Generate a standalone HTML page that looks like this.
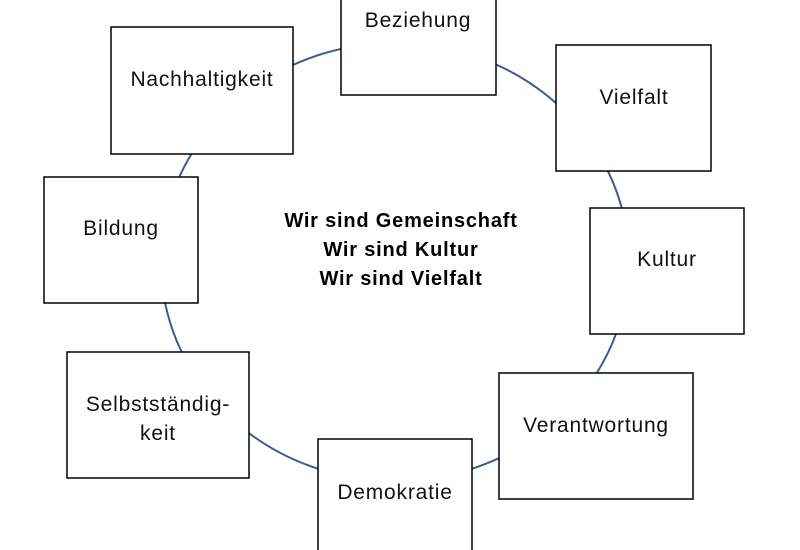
<!DOCTYPE html>
<html><head><meta charset="utf-8"><style>
html,body{margin:0;padding:0;background:#fff;}
svg{display:block;}
text{font-family:"Liberation Sans",sans-serif;}
</style></head><body>
<svg width="800" height="550" viewBox="0 0 800 550" xmlns="http://www.w3.org/2000/svg">
<ellipse cx="395" cy="262" rx="234" ry="219" fill="none" stroke="#3a5a98" stroke-width="2"/>
<g fill="#fff" stroke="#000" stroke-width="1.5">
<rect x="341" y="-32" width="155" height="127"/>
<rect x="111" y="27" width="182" height="127"/>
<rect x="556" y="45" width="155" height="126"/>
<rect x="44" y="177" width="154" height="126"/>
<rect x="590" y="208" width="154" height="126"/>
<rect x="67" y="352" width="182" height="126"/>
<rect x="499" y="373" width="194" height="126"/>
<rect x="318" y="439" width="154" height="130"/>
</g>
<g font-size="21" fill="#111" text-anchor="middle" letter-spacing="0.8">
<text x="418" y="27">Beziehung</text>
<text x="202" y="86">Nachhaltigkeit</text>
<text x="634" y="104">Vielfalt</text>
<text x="121" y="235">Bildung</text>
<text x="667" y="266">Kultur</text>
<text x="158" y="411">Selbstständig-</text>
<text x="158" y="440">keit</text>
<text x="596" y="432">Verantwortung</text>
<text x="395" y="499">Demokratie</text>
</g>
<g font-size="20" font-weight="bold" fill="#000" text-anchor="middle" letter-spacing="0.8">
<text x="401" y="227">Wir sind Gemeinschaft</text>
<text x="401" y="256">Wir sind Kultur</text>
<text x="401" y="285">Wir sind Vielfalt</text>
</g>
</svg>
</body></html>
